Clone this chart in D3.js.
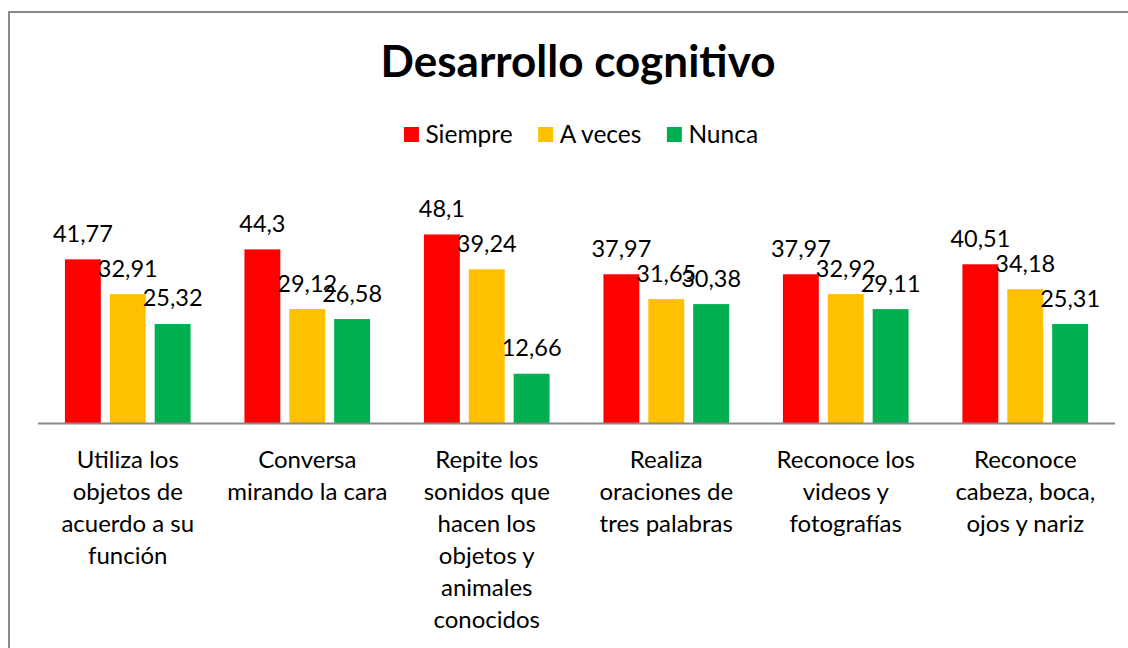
<!DOCTYPE html>
<html>
<head>
<meta charset="utf-8">
<script src="https://cdn.jsdelivr.net/npm/d3@7"></script>
<style>
  body { margin: 0; background: #fff; }
  svg text { font-family: Lato, "Open Sans", sans-serif; fill: #000; }
</style>
</head>
<body>
<div id="chart"></div>
<script>
// chart data
var categories = [
    "Utiliza los objetos de acuerdo a su función",
    "Conversa mirando la cara",
    "Repite los sonidos que hacen los objetos y animales conocidos",
    "Realiza oraciones de tres palabras",
    "Reconoce los videos y fotografías",
    "Reconoce cabeza, boca, ojos y nariz"
];
var seriesNames = ["Siempre", "A veces", "Nunca"];
var siempre = [41.77, 44.3, 48.1, 37.97, 37.97, 40.51];
var aVeces  = [32.91, 29.12, 39.24, 31.65, 32.92, 34.18];
var nunca   = [25.32, 26.58, 12.66, 30.38, 29.11, 25.31];
var seriesColors = ["#FF0000", "#FFC000", "#00B050"];

var width = 1128, height = 648;
var plot = {left: 38, right: 1115, top: 227, bottom: 423.5};

var svg = d3.select("#chart").append("svg")
    .attr("width", width)
    .attr("height", height);

// outer chart border
svg.append("rect")
    .attr("x", 9).attr("y", 12)
    .attr("width", 1130).attr("height", 650)
    .attr("fill", "#fff")
    .attr("stroke", "#898989")
    .attr("stroke-width", 2);

// title
svg.append("text")
    .attr("x", 578).attr("y", 77)
    .attr("text-anchor", "middle")
    .style("font-size", "44px")
    .style("font-weight", "bold")
    .text("Desarrollo cognitivo");

var data = categories.map(function(c, i) {
    return {cat: c, values: [siempre[i], aVeces[i], nunca[i]]};
});

var x0 = d3.scaleBand()
    .domain(categories)
    .range([plot.left, plot.right]);

var x1 = d3.scaleBand()
    .domain(seriesNames)
    .range([0, x0.bandwidth() * 0.7])
    .paddingInner(0.2);

var groupOffset = x0.bandwidth() * 0.15;

var y = d3.scaleLinear()
    .domain([0, 50])
    .range([plot.bottom, plot.top]);

// bars
var groups = svg.append("g").selectAll("g")
    .data(data)
    .enter().append("g")
    .attr("transform", function(d) { return "translate(" + (x0(d.cat) + groupOffset) + ",0)"; });

groups.selectAll("rect")
    .data(function(d) { return d.values.map(function(v, k) { return {key: seriesNames[k], value: v, k: k}; }); })
    .enter().append("rect")
    .attr("x", function(d) { return x1(d.key); })
    .attr("y", function(d) { return y(d.value); })
    .attr("width", x1.bandwidth())
    .attr("height", function(d) { return y(0) - y(d.value); })
    .attr("fill", function(d) { return seriesColors[d.k]; });

// value labels
groups.selectAll("text")
    .data(function(d) { return d.values.map(function(v, k) { return {key: seriesNames[k], value: v}; }); })
    .enter().append("text")
    .attr("x", function(d) { return x1(d.key) + x1.bandwidth() / 2; })
    .attr("y", function(d) { return y(d.value) - 17.5; })
    .attr("text-anchor", "middle")
    .style("font-size", "23.5px")
    .text(function(d) { return String(d.value).replace(".", ","); });

// category axis line
svg.append("line")
    .attr("x1", plot.left).attr("x2", plot.right)
    .attr("y1", plot.bottom).attr("y2", plot.bottom)
    .attr("stroke", "#898989")
    .attr("stroke-width", 2);

// category labels, wrapped
var catAxis = svg.append("g")
    .attr("transform", "translate(0," + plot.bottom + ")")
    .call(d3.axisBottom(x0).tickSize(0).tickPadding(0));
catAxis.select(".domain").remove();
catAxis.selectAll(".tick text")
    .style("font-size", "24px")
    .style("font-family", "Lato, sans-serif")
    .attr("fill", "#000")
    .call(wrap, 172);

function wrap(sel, maxW) {
    sel.each(function() {
        var t = d3.select(this);
        var words = t.text().split(" ");
        t.text(null).attr("y", null).attr("dy", null);
        var lines = [], line = [];
        var tmp = t.append("tspan");
        words.forEach(function(w) {
            line.push(w);
            tmp.text(line.join(" "));
            if (tmp.node().getComputedTextLength() > maxW && line.length > 1) {
                line.pop();
                lines.push(line.join(" "));
                line = [w];
            }
        });
        lines.push(line.join(" "));
        tmp.remove();
        lines.forEach(function(l, i) {
            t.append("tspan")
                .attr("x", 0)
                .attr("y", 44.5 + i * 32)
                .text(l);
        });
    });
}

// legend
var legend = svg.append("g");
var lx = 0;
seriesNames.forEach(function(name, i) {
    var g = legend.append("g").attr("transform", "translate(" + lx + ",0)");
    g.append("rect")
        .attr("x", 0).attr("y", 127)
        .attr("width", 15).attr("height", 15)
        .attr("fill", seriesColors[i]);
    var t = g.append("text")
        .attr("x", 21.5).attr("y", 143)
        .style("font-size", "24.5px")
        .text(name);
    lx += 21.5 + t.node().getComputedTextLength() + 25.5;
});
var legW = lx - 25.5;
legend.attr("transform", "translate(" + (581 - legW / 2) + ",0)");
</script>
</body>
</html>
